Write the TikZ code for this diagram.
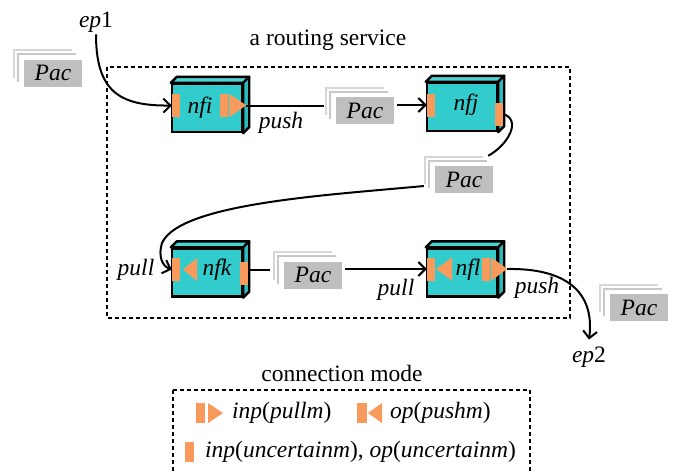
\documentclass[tikz,border=0pt]{standalone}
\usepackage{fontspec}
\setmainfont{Liberation Serif}
\usetikzlibrary{arrows.meta,calc}

\definecolor{boxfront}{HTML}{33CCCC}
\definecolor{boxtop}{HTML}{4DD3D3}
\definecolor{boxside}{HTML}{2DBABA}
\definecolor{portorange}{HTML}{F89A5C}
\definecolor{pacgray}{HTML}{BFBFBF}
\definecolor{pacback}{HTML}{D6D6D6}
\definecolor{pacmid}{HTML}{C8C8C8}

\tikzset{
  txt/.style={font=\fontsize{23.5}{28}\selectfont, inner sep=2pt},
  nffront/.style={draw=black, line width=2.4pt, fill=boxfront, minimum width=70pt, minimum height=48pt, inner sep=0pt},
  nftop/.style={draw=black, line width=2.4pt, fill=boxtop, line join=round},
  nfside/.style={draw=black, line width=2.4pt, fill=boxside, line join=round},
  port/.style={fill=portorange, inner sep=0pt, minimum width=8pt, minimum height=23pt},
  pacbox/.style={fill=pacgray, inner sep=0pt, minimum width=58pt, minimum height=27pt, font=\fontsize{23.5}{28}\selectfont\itshape},
  pacedge/.style={line width=2pt},
  conn/.style={line width=2pt},
  tip/.style={-{Straight Barb[length=7pt,width=14pt,line width=2pt]}},
  dashbox/.style={line width=2.5pt, dash pattern=on 4pt off 3pt},
}

% a 3D block: front face node plus its top and right faces
\newcommand{\nfblock}[2]{%
  \node[nffront] (#1) at (#2) {};
  \filldraw[nftop] (#1.north west) -- ++(6,-6) -- ([shift={(6,-6)}]#1.north east) -- (#1.north east) -- cycle;
  \filldraw[nfside] (#1.north east) -- ++(6,-6) -- ([shift={(6,-6)}]#1.south east) -- (#1.south east) -- cycle;
}

% a stack of packets: two outlined sheets behind a filled one
\newcommand{\pacstack}[2]{%
  \node[pacbox] (#1) at (#2) {Pac};
  \draw[pacedge, pacback] ([shift={(-10,-9)}]#1.south west) -- ([shift={(-10,-9)}]#1.north west) -- ([shift={(-10,-9)}]#1.north east);
  \draw[pacedge, pacmid] ([shift={(-6,-5)}]#1.south west) -- ([shift={(-6,-5)}]#1.north west) -- ([shift={(-6,-5)}]#1.north east);
}

\begin{document}
\begin{tikzpicture}[x=1pt,y=-1pt]
\useasboundingbox (0,0) rectangle (675,472);
\clip (0,0) rectangle (675,472);

% service boundary
\draw[dashbox] (107,67) rectangle (570,318);
\node[txt] (title) at (328,40) {a routing service};

% blocks
\nfblock{nfi}{207,108}
\nfblock{nfj}{462,107}
\nfblock{nfk}{207,272.5}
\nfblock{nfl}{462,272.5}

\node[txt] (nfi-t) at (200,108) {\itshape nfi};
\node[txt] (nfj-t) at (466,105) {\itshape nfj};
\node[txt] (nfk-t) at (217,270) {\itshape nfk};
\node[txt] (nfl-t) at (468,270) {\itshape nfl};

% ports
\node[port] (nfi-in) at (176,105.5) {};
\node[port] (nfi-out) at (224,105.5) {};
\fill[portorange] ([xshift=1pt]nfi-out.north east) -- ++(17,11.5) -- ([xshift=1pt]nfi-out.south east) -- cycle;
\coordinate (nfi-tip) at ([xshift=18pt]nfi-out.east);

\node[port] (nfj-in) at (431,105) {};
\node[port] (nfj-out) at (499,114) {};

\node[port] (nfk-in) at (176,269.5) {};
\fill[portorange] (183,269.5) -- (197,258) -- (197,281) -- cycle;
\node[port] (nfk-out) at (244,273.5) {};

\node[port] (nfl-in) at (431,269) {};
\fill[portorange] (436,269) -- (452,257.5) -- (452,280.5) -- cycle;
\node[port] (nfl-out) at (486,269) {};
\fill[portorange] ([xshift=1pt]nfl-out.north east) -- ++(16,11.5) -- ([xshift=1pt]nfl-out.south east) -- cycle;
\coordinate (nfl-tip) at ([xshift=17pt]nfl-out.east);

% packets
\pacstack{pac1}{53,73}
\pacstack{pac2}{365,110.5}
\pacstack{pac3}{464,179.5}
\pacstack{pac4}{313,275}
\pacstack{pac5}{639,307.5}

% end points and mode labels
\node[txt] (ep1) at (96,22) {\itshape ep\upshape 1};
\node[txt] (ep2) at (589,357) {\itshape ep\upshape 2};
\node[txt] (push1) at (281,123) {\itshape push};
\node[txt] (pull1) at (136,270) {\itshape pull};
\node[txt] (pull2) at (396,290) {\itshape pull};
\node[txt] (push2) at (537,288) {\itshape push};

% connectors
\draw[conn, tip] (ep1.south) .. controls (96,92) and (120,106) .. (nfi-in.west);
\draw[conn] (nfi-tip) -- ([xshift=-12pt]pac2.west |- nfi-tip);
\draw[conn, tip] ([xshift=3pt]pac2.east |- nfj-in.west) -- (nfj-in.west);
\draw[conn] (nfj-out.east) .. controls (522,120) and (508,145) .. ([shift={(-5,-10)}]pac3.north east);
\draw[conn, tip] ([shift={(-11,6.5)}]pac3.west) .. controls (330,195) and (180,203) .. (162,243)
  .. controls (158,256) and (162,266) .. (nfk-in.west);
\draw[conn] (nfk-out.east |- nfk-in) -- ([xshift=-14pt]pac4.west |- nfk-in);
\draw[conn, tip] ([xshift=3pt]pac4.east |- nfl-in.west) -- (nfl-in.west);
\draw[conn, tip] (nfl-tip) .. controls (566,268) and (595,292) .. ([yshift=5pt]ep2.north);

% legend
\node[txt] (legend-title) at (342,373) {connection mode};
\draw[dashbox] (173,390) rectangle (530,490);
\node[port, minimum width=9pt, minimum height=20pt] (lg-a) at (200.5,413) {};
\fill[portorange] (208,403) -- (223,413) -- (208,423) -- cycle;
\node[txt, anchor=west] (lg-a-t) at (230,413) {\itshape inp\upshape(\itshape pullm\upshape)};
\node[port, minimum width=10pt, minimum height=20pt] (lg-b) at (362,413) {};
\fill[portorange] (368,413) -- (382,403) -- (382,423) -- cycle;
\node[txt, anchor=west] (lg-b-t) at (388,413) {\itshape op\upshape(\itshape pushm\upshape)};
\node[port, minimum width=9pt, minimum height=20pt] (lg-c) at (189.5,452) {};
\node[txt, anchor=west] (lg-c-t) at (203,452) {\itshape inp\upshape(\itshape uncertainm\upshape), \itshape op\upshape(\itshape uncertainm\upshape)};
\end{tikzpicture}
\end{document}
